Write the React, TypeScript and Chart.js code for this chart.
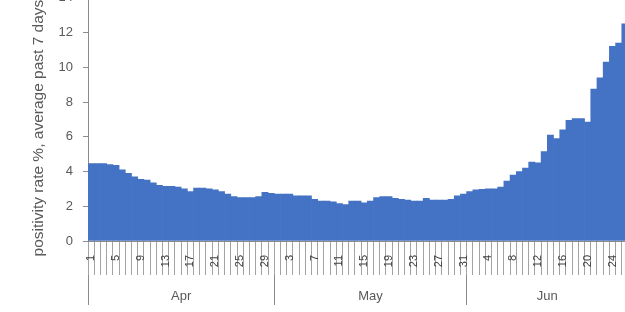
import { useEffect, useRef } from "react";
import { Chart, registerables } from "chart.js";

Chart.register(...registerables);

// positivity rate %, average past 7 days — daily values
const aprValues = [
  4.45, 4.45, 4.45, 4.4, 4.35, 4.1, 3.9, 3.7, 3.55, 3.5,
  3.35, 3.2, 3.15, 3.15, 3.1, 3.0, 2.85, 3.05, 3.05, 3.0,
  2.95, 2.85, 2.7, 2.55, 2.5, 2.5, 2.5, 2.55, 2.8, 2.75,
];
const mayValues = [
  2.7, 2.7, 2.7, 2.6, 2.6, 2.6, 2.4, 2.3, 2.3, 2.25,
  2.15, 2.1, 2.3, 2.3, 2.2, 2.3, 2.5, 2.55, 2.55, 2.45,
  2.4, 2.35, 2.3, 2.3, 2.45, 2.35, 2.35, 2.35, 2.4, 2.6,
  2.7,
];
const junValues = [
  2.85, 2.95, 2.98, 3.0, 3.0, 3.1, 3.45, 3.8, 4.0, 4.2,
  4.55, 4.5, 5.15, 6.1, 5.9, 6.4, 6.95, 7.05, 7.05, 6.85,
  8.75, 9.4, 10.3, 11.2, 11.4, 12.5,
];
const monthNames = ["Apr", "May", "Jun"];
const monthSeries = [aprValues, mayValues, junValues];
const yTickValues = [0, 2, 4, 6, 8, 10, 12, 14];
const dayLabelEvery = 4;
const yTitle = "positivity rate %, average past 7 days";

const dayLabels: string[] = [];
const values: number[] = [];
monthSeries.forEach((arr) => {
  arr.forEach((v, i) => {
    dayLabels.push(String(i + 1));
    values.push(v);
  });
});

const boundaries: number[] = [];
const centres: { value: number; label: string }[] = [];
{
  let start = 0;
  monthSeries.forEach((arr, m) => {
    boundaries.push(start - 0.5);
    centres.push({ value: start - 0.5 + arr.length / 2, label: monthNames[m] });
    start += arr.length;
  });
  boundaries.push(start - 0.5);
}

const AXIS = "#8c8c8c";
const TEXT = "#595959";
const FONT = "'Liberation Sans', Arial, sans-serif";

export default function App() {
  const ref = useRef<HTMLCanvasElement | null>(null);
  useEffect(() => {
    if (!ref.current) return;
    const n = values.length;
    const chart = new Chart(ref.current, {
      type: "bar",
      data: {
        labels: dayLabels,
        datasets: [
          {
            data: values,
            backgroundColor: "#4472C4",
            borderWidth: 0,
            barPercentage: 1,
            categoryPercentage: 1,
            xAxisID: "x",
            yAxisID: "y",
          },
        ],
      },
      options: {
        responsive: false,
        animation: false,
        layout: { padding: { left: 24, top: 14, right: 0, bottom: 0 } },
        plugins: { legend: { display: false }, tooltip: { enabled: false }, title: { display: false } },
        scales: {
          x: {
            type: "category",
            position: "bottom",
            weight: 0,
            afterFit: (scale: any) => {
              scale.height = 34;
            },
            grid: {
              display: true,
              drawOnChartArea: false,
              offset: true,
              tickLength: 34,
              color: "#a3a3a3",
              lineWidth: 1,
            },
            border: { display: true, color: AXIS },
            ticks: {
              autoSkip: false,
              minRotation: 90,
              maxRotation: 90,
              padding: -20,
              color: "#404040",
              font: { family: FONT, size: 11 },
              callback: (_v: any, i: number) => (i % dayLabelEvery === 0 ? dayLabels[i] : ""),
            },
          },
          x2: {
            type: "linear",
            position: "bottom",
            weight: 1,
            offset: false,
            min: -0.5,
            max: n - 0.5,
            afterFit: (scale: any) => {
              scale.height = 31;
            },
            afterBuildTicks: (scale: any) => {
              scale.ticks = [
                ...boundaries.map((b) => ({ value: b })),
                ...centres.map((c) => ({ value: c.value })),
              ];
            },
            grid: {
              display: true,
              offset: false,
              drawOnChartArea: false,
              tickLength: 30,
              lineWidth: 1,
              color: (ctx: any) =>
                ctx.tick && boundaries.includes(ctx.tick.value) ? AXIS : "rgba(0,0,0,0)",
            },
            border: { display: false },
            ticks: {
              autoSkip: false,
              maxRotation: 0,
              minRotation: 0,
              padding: -16,
              color: TEXT,
              font: { family: FONT, size: 13 },
              callback: (v: any) => {
                const c = centres.find((cc) => cc.value === v);
                return c ? c.label : "";
              },
            },
          },
          y: {
            type: "linear",
            min: 0,
            max: 14,
            afterBuildTicks: (scale: any) => {
              scale.ticks = yTickValues.map((v) => ({ value: v }));
            },
            grid: { display: true, drawOnChartArea: false, tickLength: 5, color: AXIS },
            border: { display: true, color: AXIS },
            ticks: { padding: 10, color: TEXT, font: { family: FONT, size: 13 } },
            title: {
              display: true,
              text: yTitle + "    ",
              color: TEXT,
              font: { family: FONT, size: 15.5 },
              padding: { top: 5, bottom: 1 },
            },
          },
        },
      },
    });
    return () => chart.destroy();
  }, []);
  return (
    <div
      style={{
        position: "fixed",
        left: 0,
        top: 0,
        width: 625,
        height: 312,
        overflow: "hidden",
        background: "#ffffff",
      }}
    >
      <canvas ref={ref} width={628} height={326} style={{ position: "absolute", left: 0, top: -20 }} />
    </div>
  );
}
